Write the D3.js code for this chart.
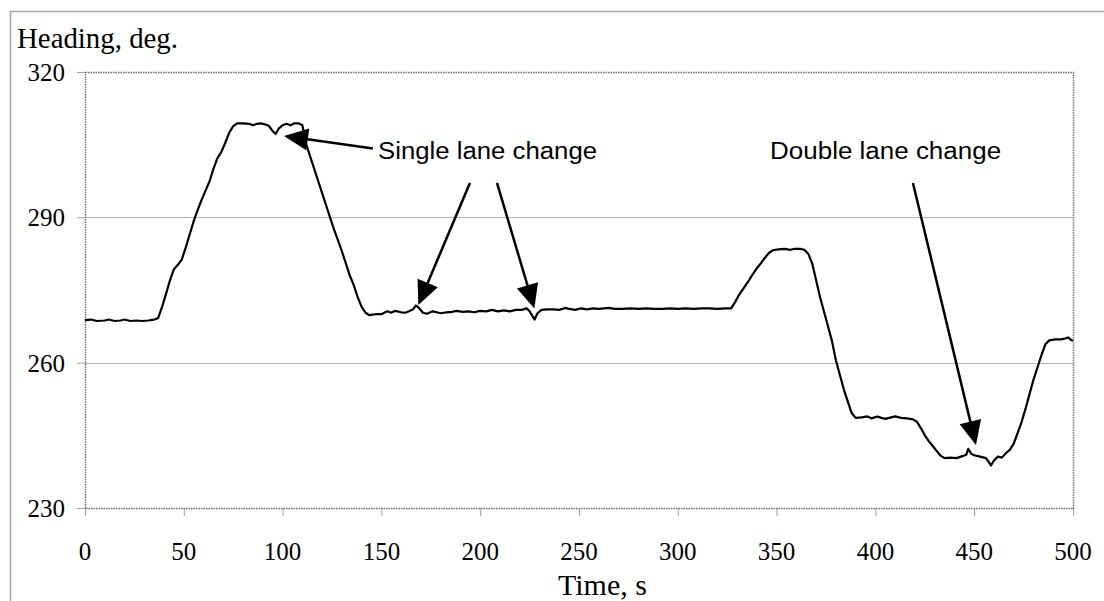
<!DOCTYPE html>
<html><head><meta charset="utf-8">
<script src="https://cdn.jsdelivr.net/npm/d3@7"></script>
<style>html,body{margin:0;padding:0;background:#fff;}svg{display:block;}</style>
</head><body>
<script>
const time = [0,3,6,10,12,15,18,20,23,26,29,32,35,37,39,41,43,45,47,49,51,53,55,57,59,61,63,65,67,69,71,73,75,77,80,83,85,87,89,91,93,95,96.5,98,100,102,104,106,108,110,112,114,116,118,120,122,124,126,128,130,132,134,136,138,140,142,144,147,150,153,155,157,160,162,164,166,167.5,169,171,173,176,178,180,183,186,188,191,194,197,200,203,206,209,212,215,218,221,223.5,225,227.5,229,231,234,237,240,243,245,248,251,254,257,260,265,268,272,276,280,284,288,292,296,300,304,308,312,316,320,324,327,329,331,333,336,338,340,342,344,346,348,351,354,357,359,362,364,366,368,370,372,374,376,378,380,382,384,386,388,390,393,396,398,401,403,405,408,410,413,416,419,421,423,425,427,429,431,433,435,438,441,444,446,447,448.5,450,453,456,458.5,460,462,464,466,468,470,472,474,476,478,480,482,484,486,488,491,494,496,497.5,499,500];
const heading = [268.8,268.9,268.6,268.7,268.9,268.6,268.7,268.9,268.6,268.7,268.6,268.7,268.9,269.2,271.5,274.2,277.0,279.3,280.2,281.3,283.8,286.5,289.2,291.5,293.6,295.5,297.4,300.0,302.2,303.5,305.4,307.5,308.8,309.4,309.4,309.3,309.0,309.3,309.4,309.2,308.9,307.8,307.2,308.3,309.0,309.3,309.0,309.4,309.4,309.0,305.0,302.5,300.0,297.5,295.0,292.5,290.0,287.5,285.3,283.0,280.5,278.0,276.0,273.5,271.5,270.3,269.8,270.0,270.0,270.6,270.3,270.7,270.4,270.3,270.6,271.0,271.8,271.3,270.3,270.1,270.6,270.4,270.2,270.4,270.5,270.7,270.5,270.6,270.4,270.7,270.6,270.9,270.6,270.8,270.6,270.9,270.9,271.2,270.6,268.9,270.2,270.9,271.0,271.0,270.9,271.3,271.1,270.9,271.2,271.0,271.2,271.1,271.3,271.1,271.1,271.2,271.1,271.2,271.1,271.1,271.2,271.1,271.2,271.1,271.2,271.2,271.1,271.2,271.2,272.5,274.0,275.2,277.0,278.3,279.5,280.5,281.6,282.6,283.2,283.4,283.5,283.3,283.5,283.5,283.3,282.5,280.5,277.0,273.5,270.5,267.5,264.5,260.5,257.5,254.5,252.0,249.6,248.6,248.7,248.9,248.5,248.9,248.6,248.4,248.7,248.9,248.6,248.5,248.3,247.8,246.5,245.0,243.8,242.8,241.8,240.8,240.3,240.4,240.3,240.7,241.0,242.2,241.2,240.9,240.6,240.3,238.8,239.8,240.6,240.4,241.3,242.0,243.3,245.5,247.8,250.5,253.5,256.5,259.0,261.5,263.8,264.6,264.8,264.8,265.0,265.2,264.7,264.5];
const xTicks = [0,50,100,150,200,250,300,350,400,450,500];
const yTicks = [230,260,290,320];
const gridValues = [260,290];
const yTitle = "Heading, deg.";
const xTitle = "Time, s";
const labels = ["Single lane change","Double lane change"];
const labelTime = [148.3,346.7];
const labelHeading = [302.0,302.0];
const labelLen = [219,231];
const arrowStartT = [145.7,194.8,208.5,419.0];
const arrowStartH = [304.2,297.1,297.1,297.1];
const arrowTipT = [100.7,168.7,227.4,450.9];
const arrowTipH = [306.8,271.9,271.2,243.0];

const SERIF="Liberation Serif";
const SANS="Liberation Sans";
const W=1104,H=601;
const svg=d3.select("body").append("svg").attr("width",W).attr("height",H);
const L=85,R=1073,T=72,B=508;
const x=d3.scaleLinear().domain([0,500]).range([L,R]);
const y=d3.scaleLinear().domain([230,320]).range([B,T]);

svg.append("path").attr("d",`M10.5,${H} L10.5,11.5 L${W},11.5`).attr("fill","none").attr("stroke","#a6a6a6").attr("stroke-width",1.5);

svg.append("g").selectAll("line").data(gridValues).join("line")
  .attr("x1",L).attr("x2",R).attr("y1",d=>Math.round(y(d))+0.5).attr("y2",d=>Math.round(y(d))+0.5)
  .attr("stroke","#b4b4b4").attr("stroke-width",1);

// tick marks via axes (labels drawn separately)
const gx=svg.append("g").attr("transform",`translate(0,${B})`)
  .call(d3.axisBottom(x).tickValues(xTicks).tickSize(8).tickFormat(""));
gx.select(".domain").remove();
gx.selectAll(".tick line").attr("stroke","#a0a0a0");
const gy=svg.append("g").attr("transform",`translate(${L},0)`)
  .call(d3.axisLeft(y).tickValues(yTicks).tickSize(8).tickFormat(""));
gy.select(".domain").remove();
gy.selectAll(".tick line").attr("stroke","#a0a0a0");

svg.append("g").selectAll("text").data(xTicks).join("text")
  .attr("x",d=>x(d)).attr("y",560).attr("text-anchor","middle")
  .attr("font-family",SERIF).attr("font-size",25).attr("fill","#000").text(d=>d);
svg.append("g").selectAll("text").data(yTicks).join("text")
  .attr("x",65).attr("y",d=>y(d)+9).attr("text-anchor","end")
  .attr("font-family",SERIF).attr("font-size",25).attr("fill","#000").text(d=>d);

svg.append("rect").attr("x",L+0.5).attr("y",T+0.5).attr("width",R-L).attr("height",B-T)
  .attr("fill","none").attr("stroke","#6e6e6e").attr("stroke-width",1.5).attr("stroke-dasharray","1.5,1");

const pts=time.map((t,i)=>[t,heading[i]]);
svg.append("path").datum(pts)
  .attr("d",d3.line().x(d=>x(d[0])).y(d=>y(d[1])))
  .attr("fill","none").attr("stroke","#000").attr("stroke-width",2.2).attr("stroke-linejoin","round");

svg.append("text").attr("x",17).attr("y",48).text(yTitle)
  .attr("font-family",SERIF).attr("font-size",30)
  .attr("textLength",161).attr("lengthAdjust","spacingAndGlyphs");
svg.append("text").attr("x",558).attr("y",595).text(xTitle)
  .attr("font-family",SERIF).attr("font-size",30);

labels.forEach((s,i)=>{
  svg.append("text").attr("x",x(labelTime[i])).attr("y",y(labelHeading[i])).text(s)
    .attr("font-family",SANS).attr("font-size",23)
    .attr("textLength",labelLen[i]).attr("lengthAdjust","spacingAndGlyphs");
});
arrowStartT.forEach((t0,i)=>{
  const x0=x(t0),y0=y(arrowStartH[i]),x1=x(arrowTipT[i]),y1=y(arrowTipH[i]);
  const dx=x1-x0,dy=y1-y0,len=Math.hypot(dx,dy),ux=dx/len,uy=dy/len;
  const hl=24,hw=11;
  const bx=x1-ux*hl,by=y1-uy*hl;
  svg.append("line").attr("x1",x0).attr("y1",y0).attr("x2",bx+ux*2).attr("y2",by+uy*2).attr("stroke","#000").attr("stroke-width",2.5);
  svg.append("path").attr("d",`M${x1},${y1}L${bx-uy*hw},${by+ux*hw}L${bx+uy*hw},${by-ux*hw}Z`).attr("fill","#000");
});
</script>
</body></html>
